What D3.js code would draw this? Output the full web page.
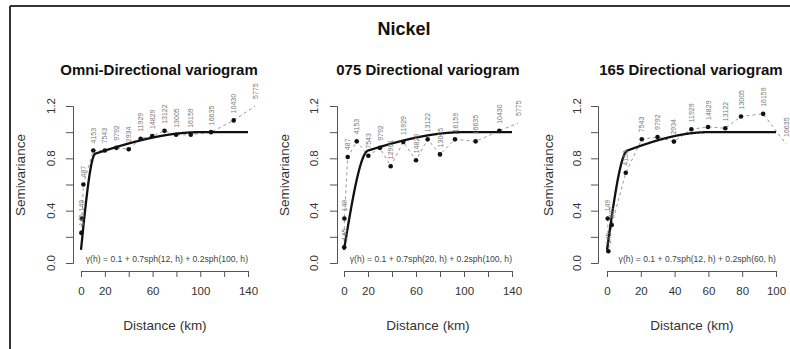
<!DOCTYPE html>
<html><head><meta charset="utf-8">
<script src="https://cdn.jsdelivr.net/npm/d3@7"></script>
<style>body{margin:0;background:#fff}svg{display:block}text{font-family:"Liberation Sans",Arial,sans-serif}</style>
</head><body>
<svg id="c" width="790" height="349"></svg>
<script>
// ---- data ----
const panelTitles = ["Omni-Directional variogram", "075 Directional variogram", "165 Directional variogram"];
const xMaxes = [140, 140, 100];
const xTickValues = [[0,20,40,60,80,100,120,140],[0,20,40,60,80,100,120,140],[0,20,40,60,80,100]];
const xTickLabels = [["0","20","","60","","100","","140"],["0","20","","60","","100","","140"],["0","20","40","60","80","100"]];
const yTickValues = [0,0.2,0.4,0.6,0.8,1.0,1.2];
const yTickLabels = ["0.0","","0.4","","0.8","","1.2"];

const omniDist = [0.3, 0.8, 2.0, 10.3, 20, 29.7, 40, 50, 59.7, 70, 79.7, 92, 109, 128, 146];
const omniGamma = [0.23, 0.34, 0.60, 0.86, 0.86, 0.88, 0.87, 0.95, 0.97, 1.01, 0.98, 0.98, 1.00, 1.09, 1.20];
const omniPairs = [145, 149, 487, 4153, 7543, 9792, 2934, 11929, 14829, 13122, 13005, 16159, 16635, 10430, 5775];

const d075Dist = [0.2, 0.3, 3.1, 10.6, 20.3, 30, 38.9, 49.4, 60, 69.7, 80, 92.5, 109.7, 129.4, 145];
const d075Gamma = [0.12, 0.34, 0.81, 0.93, 0.82, 0.88, 0.74, 0.925, 0.785, 0.945, 0.83, 0.945, 0.93, 1.01, 1.07];
const d075Pairs = [145, 149, 487, 4153, 7543, 9792, 12901, 11929, 14829, 13122, 13005, 16159, 16635, 10430, 5775];

const d165Dist = [0.4, 0.8, 2.8, 11.1, 20.6, 29.9, 39.6, 49.9, 59.8, 70, 79.3, 92.4, 106];
const d165Gamma = [0.34, 0.09, 0.29, 0.69, 0.946, 0.963, 0.928, 1.022, 1.04, 1.03, 1.12, 1.14, 0.91];
const d165Pairs = [149, 145, 487, 4153, 7543, 9792, 2934, 11929, 14829, 13122, 13005, 16159, 16635];

// model: nugget + c1*sph(a1,h) + c2*sph(a2,h)
const modelNugget = [0.1, 0.1, 0.1];
const modelC1 = [0.7, 0.7, 0.7];
const modelA1 = [12, 20, 12];
const modelC2 = [0.2, 0.2, 0.2];
const modelA2 = [100, 100, 60];
const modelLabels = ["γ(h) = 0.1 + 0.7sph(12, h) + 0.2sph(100, h)",
                     "γ(h) = 0.1 + 0.7sph(20, h) + 0.2sph(100, h)",
                     "γ(h) = 0.1 + 0.7sph(12, h) + 0.2sph(60, h)"];

const dists = [omniDist, d075Dist, d165Dist];
const gammas = [omniGamma, d075Gamma, d165Gamma];
const pairs = [omniPairs, d075Pairs, d165Pairs];

// ---- layout ----
const layout = [
  {yAxisX: 73, x0: 81, x1: 248, titleX: 159, xlabX: 165, ylabX: 25, ytickX: 55},
  {yAxisX: 337, x0: 344, x1: 512, titleX: 428, xlabX: 428, ylabX: 289, ytickX: 318},
  {yAxisX: 598, x0: 607, x1: 776, titleX: 691, xlabX: 692, ylabX: 553, ytickX: 581}
];
const yTop = 106, yBottom = 263, xAxisY = 271;

const svg = d3.select("#c");
svg.append("rect").attr("width",790).attr("height",349).attr("fill","#fff");
// frame
svg.append("line").attr("x1",10).attr("x2",790).attr("y1",6).attr("y2",6).attr("stroke","#333").attr("stroke-width",2);
svg.append("line").attr("x1",10).attr("x2",10).attr("y1",6).attr("y2",349).attr("stroke","#333").attr("stroke-width",2);

svg.append("text").attr("x",404).attr("y",35).attr("text-anchor","middle")
  .attr("font-size",18).attr("font-weight","bold").attr("fill","#111").text("Nickel");

function sph(a,h){ if(h>=a) return 1; const r=h/a; return 1.5*r-0.5*r*r*r; }

panelTitles.forEach((title,i)=>{
  const L = layout[i];
  const x = d3.scaleLinear().domain([0,xMaxes[i]]).range([L.x0,L.x1]);
  const y = d3.scaleLinear().domain([0,1.2]).range([yBottom,yTop]);
  const g = svg.append("g");

  g.append("text").attr("x",L.titleX).attr("y",75).attr("text-anchor","middle")
    .attr("font-size",15).attr("font-weight","bold").attr("fill","#111").text(title);

  // y axis
  const ya = d3.axisLeft(y).tickValues(yTickValues).tickSize(7).tickFormat(()=>"");
  const yg = g.append("g").attr("transform",`translate(${L.yAxisX},0)`).call(ya);
  yg.select(".domain").attr("stroke","#555");
  yg.selectAll(".tick line").attr("stroke","#555");
  yTickValues.forEach((v,k)=>{
    if(!yTickLabels[k]) return;
    g.append("text").attr("transform",`translate(${L.ytickX},${y(v)}) rotate(-90)`)
      .attr("text-anchor","middle").attr("font-size",11.5).attr("fill","#333").text(yTickLabels[k]);
  });

  // x axis
  const xa = d3.axisBottom(x).tickValues(xTickValues[i]).tickSize(6).tickPadding(10)
    .tickFormat((d,k)=>xTickLabels[i][k]);
  const xg = g.append("g").attr("transform",`translate(0,${xAxisY})`).call(xa);
  xg.select(".domain").attr("stroke","#555");
  xg.selectAll(".tick line").attr("stroke","#555");
  xg.selectAll(".tick text").attr("font-size",11.5).attr("fill","#333").attr("font-family","Liberation Sans, Arial, sans-serif");

  g.append("text").attr("x",L.xlabX).attr("y",330).attr("text-anchor","middle")
    .attr("font-size",13.5).attr("fill","#333").text("Distance (km)");
  g.append("text").attr("transform",`translate(${L.ylabX},175) rotate(-90)`).attr("text-anchor","middle")
    .attr("font-size",13.5).attr("fill","#333").text("Semivariance");

  // experimental points
  const pts = dists[i].map((d,k)=>({h:d, gm:gammas[i][k], n:pairs[i][k]}));
  g.append("path").datum(pts)
    .attr("d", d3.line().x(p=>x(p.h)).y(p=>y(p.gm)))
    .attr("fill","none").attr("stroke","#999").attr("stroke-width",1).attr("stroke-dasharray","3,3");

  // model line
  const hs = d3.range(0, xMaxes[i]+0.001, 0.25);
  const model = hs.map(h=>({h, gm: modelNugget[i] + modelC1[i]*sph(modelA1[i],h) + modelC2[i]*sph(modelA2[i],h)}));
  g.append("path").datum(model)
    .attr("d", d3.line().x(p=>x(p.h)).y(p=>y(p.gm)))
    .attr("fill","none").attr("stroke","#111").attr("stroke-width",2.3);

  g.selectAll("circle.pt").data(pts.filter(p=>p.h<=xMaxes[i]*1.02)).enter().append("circle")
    .attr("cx",p=>x(p.h)).attr("cy",p=>y(p.gm)).attr("r",2.3).attr("fill","#111");

  g.selectAll("text.np").data(pts).enter().append("text")
    .attr("transform",p=>`translate(${x(p.h)+2.5},${y(p.gm)-7}) rotate(-90)`)
    .attr("font-size",7).attr("fill","#777").text(p=>p.n);

  g.append("text").attr("x",L.x1).attr("y",262).attr("text-anchor","end")
    .attr("font-size",8.6).attr("fill","#444").text(modelLabels[i]);
});
</script>
</body></html>
